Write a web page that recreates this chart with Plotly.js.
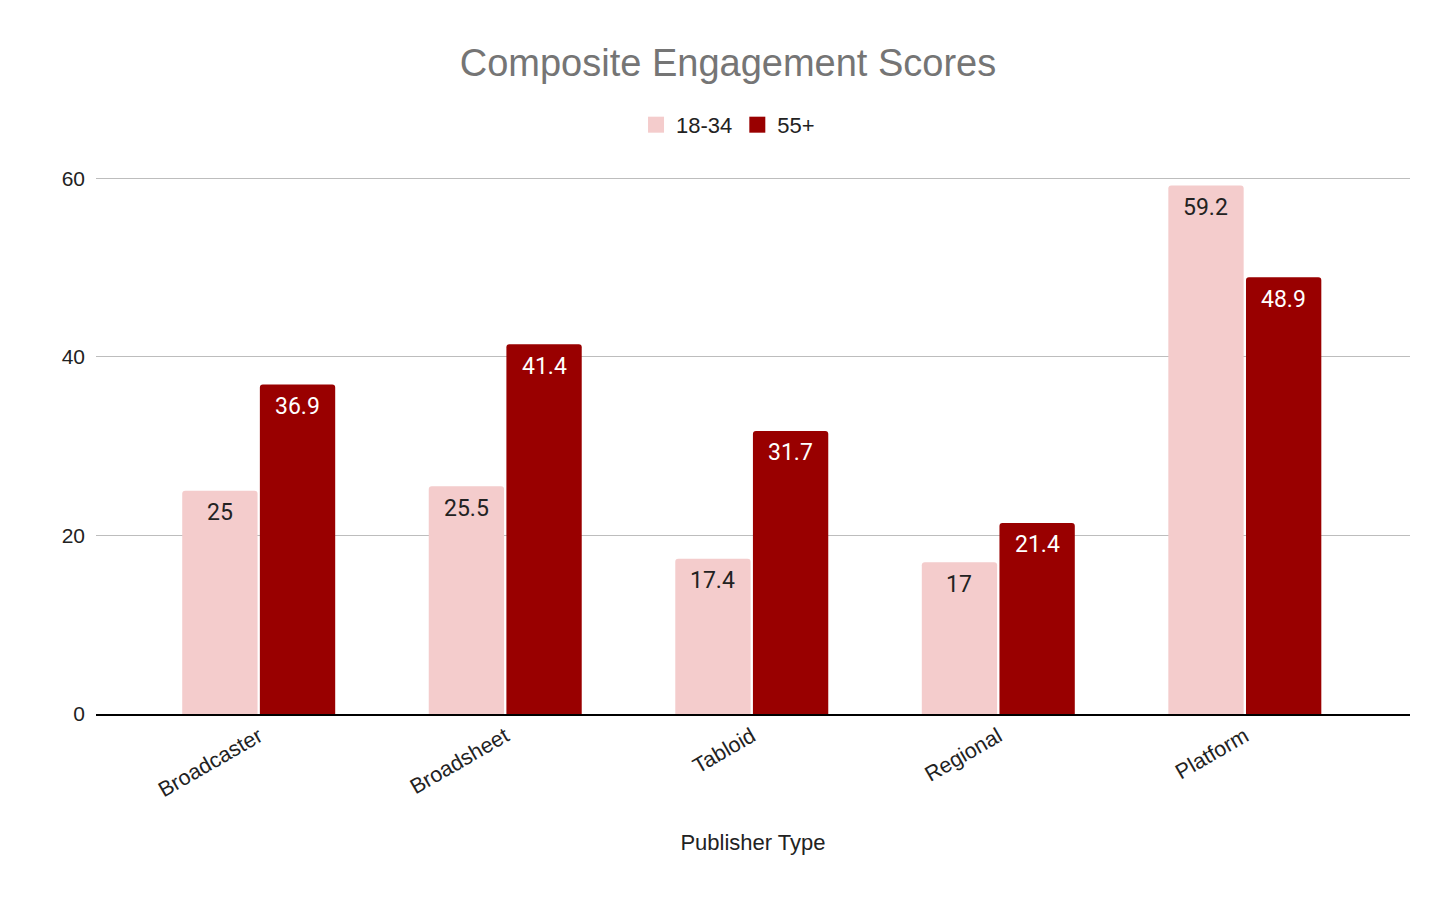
<!DOCTYPE html>
<html>
<head>
<meta charset="utf-8">
<script src="https://cdn.plot.ly/plotly-3.0.1.min.js"></script>
<style>html,body{margin:0;padding:0;background:#fff;}#chart{width:1456px;height:901px;}</style>
</head>
<body>
<div id="chart"></div>
<script>
const categories = ["Broadcaster", "Broadsheet", "Tabloid", "Regional", "Platform"];
const youngValues = [25, 25.5, 17.4, 17, 59.2];
const olderValues = [36.9, 41.4, 31.7, 21.4, 48.9];
const seriesNames = ["18-34", "55+"];
const seriesColors = ["#f4cccc", "#990000"];
const labelColors = ["#222222", "#ffffff"];
const yTicks = [0, 20, 40, 60];

const ARIAL = "'Liberation Sans', Arial, sans-serif";
const ROBOTO = "Roboto, Arial, sans-serif";

const seriesValues = [youngValues, olderValues];

const traces = [];
seriesValues.forEach((vals, s) => {
  traces.push({
    type: "bar", name: seriesNames[s], x: categories, y: vals,
    marker: {color: seriesColors[s]}, hoverinfo: "none", showlegend: false
  });
});
// legend entries with larger square swatches
seriesNames.forEach((n, s) => {
  traces.push({
    type: "scatter", mode: "markers", name: n, x: [null], y: [null],
    marker: {symbol: "square", size: 22, color: seriesColors[s], line: {width: 0}},
    hoverinfo: "none", showlegend: true
  });
});

const annotations = [];
categories.forEach((c, i) => {
  seriesValues.forEach((vals, s) => {
    annotations.push({x: c, y: vals[i], xref: "x", yref: "y", text: String(vals[i]),
      showarrow: false, xshift: s === 0 ? -39 : 39, yshift: -22, yanchor: "middle",
      font: {family: ROBOTO, size: 23, color: labelColors[s]}});
  });
});

const layout = {
  width: 1456, height: 901,
  paper_bgcolor: "#ffffff", plot_bgcolor: "#ffffff",
  font: {family: ARIAL, color: "#222222"},
  margin: {l: 96, r: 46, t: 176, b: 187},
  title: {text: "Composite Engagement Scores", font: {family: ARIAL, size: 38, color: "#757575"},
          x: 0.5, xanchor: "center", y: 0.93, yanchor: "middle"},
  showlegend: true,
  legend: {orientation: "h", x: 0.481, xanchor: "center", y: 1.095, yanchor: "middle",
           font: {family: ARIAL, size: 22, color: "#222222"}, itemwidth: 30, itemsizing: "trace"},
  barmode: "group", bargap: 0.37, bargroupgap: 0.03, barcornerradius: 3,
  annotations: annotations,
  xaxis: {
    type: "category", range: [-0.66, 4.67],
    tickangle: -30, tickfont: {family: ARIAL, size: 21.5, color: "#222222"},
    showgrid: false, showline: true, linecolor: "#000000", linewidth: 1.5,
    ticks: "", zeroline: false,
    title: {text: "Publisher Type", font: {family: ARIAL, size: 22, color: "#222222"}, standoff: 33}
  },
  yaxis: {
    range: [0, 60.25], tickvals: yTicks, ticktext: yTicks.map(String),
    tickfont: {family: ARIAL, size: 21, color: "#222222"},
    showgrid: true, gridcolor: "#bdbdbd", gridwidth: 1, zeroline: false,
    ticks: "", ticklabelstandoff: 10
  }
};

Plotly.newPlot("chart", traces, layout, {displayModeBar: false, staticPlot: true});
</script>
</body>
</html>
